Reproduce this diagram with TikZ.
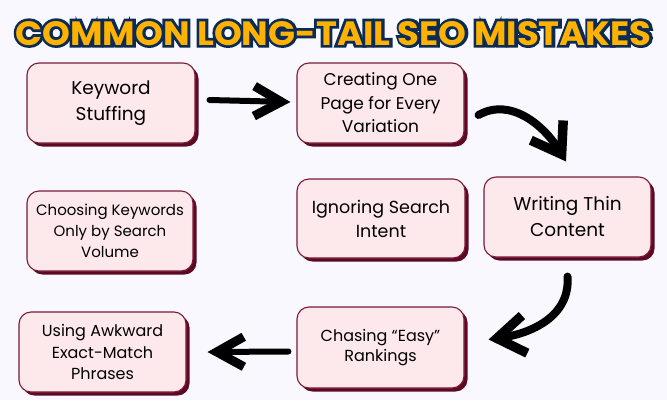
\documentclass[tikz,border=0pt]{standalone}
\usepackage{fontspec}
\setmainfont{Poppins}
\newfontfamily\titlefont{Poppins}
\newfontfamily\titlefontfat{Poppins}[FakeBold=16]
\usetikzlibrary{arrows.meta,shadows,calc}
\definecolor{bg}{HTML}{F8F8FE}
\definecolor{boxfill}{HTML}{FDE8EB}
\definecolor{boxline}{HTML}{7A1A36}
\definecolor{boxshadow}{HTML}{5C0A24}
\definecolor{titlefill}{HTML}{FFB300}
\definecolor{titleline}{HTML}{0B2A55}
\newcommand\mytitletext[1]{\resizebox{636pt}{24pt}{#1\bfseries COMMON LONG-TAIL SEO MISTAKES}}
\tikzset{
  stepbox/.style={draw=boxline, fill=boxfill, line width=1.1pt, rounded corners=12pt,
    align=center, inner sep=0pt, text=black,
    drop shadow={shadow xshift=3.5pt, shadow yshift=-3.5pt, fill=boxshadow, opacity=1}},
  brush/.style={line width=6pt, line cap=round, draw=black,
    -{Straight Barb[length=27pt,width=30pt,line width=9pt]}},
  brushc/.style={line width=8pt, line cap=round, draw=black,
    -{Straight Barb[length=28pt,width=38pt,line width=9.5pt]}},
}
\begin{document}
\begin{tikzpicture}[x=1pt,y=-1pt]
\useasboundingbox[fill=bg] (0,0) rectangle (667,400);
% title
\coordinate (T) at (333.5,45);
\node[anchor=base, inner sep=0pt, text=titleline] (titleback) at (T) {\mytitletext{\titlefontfat}};
\node[anchor=base, inner sep=0pt, text=titlefill] (title) at (T) {\mytitletext{\titlefont}};
% boxes
\node[stepbox, minimum width=168pt, minimum height=80pt, font=\fontsize{18.5}{26}\selectfont] (k1) at (111,103) {Keyword\\Stuffing};
\node[stepbox, minimum width=167pt, minimum height=80pt, font=\fontsize{17}{23.5}\selectfont] (k2) at (380.5,103) {Creating One\\Page for Every\\Variation};
\node[stepbox, minimum width=167pt, minimum height=80pt, font=\fontsize{18.5}{26}\selectfont] (k3) at (567.5,217) {Writing Thin\\Content};
\node[stepbox, minimum width=168pt, minimum height=79pt, font=\fontsize{17.5}{24}\selectfont] (k4) at (381,218.5) {Ignoring Search\\Intent};
\node[stepbox, minimum width=166pt, minimum height=80pt, font=\fontsize{15}{21}\selectfont] (k5) at (110,231) {Choosing Keywords\\Only by Search\\Volume};
\node[stepbox, minimum width=167pt, minimum height=81pt, font=\fontsize{16}{19.5}\selectfont] (k6) at (380.5,347.5) {Chasing “Easy”\\Rankings};
\node[stepbox, minimum width=167pt, minimum height=80pt, font=\fontsize{16}{21.5}\selectfont] (k7) at (102.5,352) {Using Awkward\\Exact-Match\\Phrases};
% arrows
\coordinate (a1s) at ($(k1.east)+(14,-3)$);
\coordinate (a1e) at ($(k2.west)+(-6,-1)$);
\draw[brush] (a1s) -- (a1e);
\coordinate (a2s) at ($(k2.east)+(14,12)$);
\coordinate (a2e) at ($(k3.north)+(-1.5,-15)$);
\draw[brushc] (a2s) .. controls ($(a2s)+(32,-18)$) and ($(a2e)+(-22,-36)$) .. (a2e);
\coordinate (a3s) at ($(k3.south)+(0,19)$);
\coordinate (a3e) at ($(k6.east)+(24,-8)$);
\draw[brushc] (a3s) .. controls ($(a3s)+(3,40)$) and ($(a3e)+(42,-6)$) .. (a3e);
\coordinate (a4s) at ($(k6.west)+(-8,4)$);
\coordinate (a4e) at ($(k7.east)+(21,0)$);
\draw[brush] (a4s) -- (a4e);
\end{tikzpicture}
\end{document}
